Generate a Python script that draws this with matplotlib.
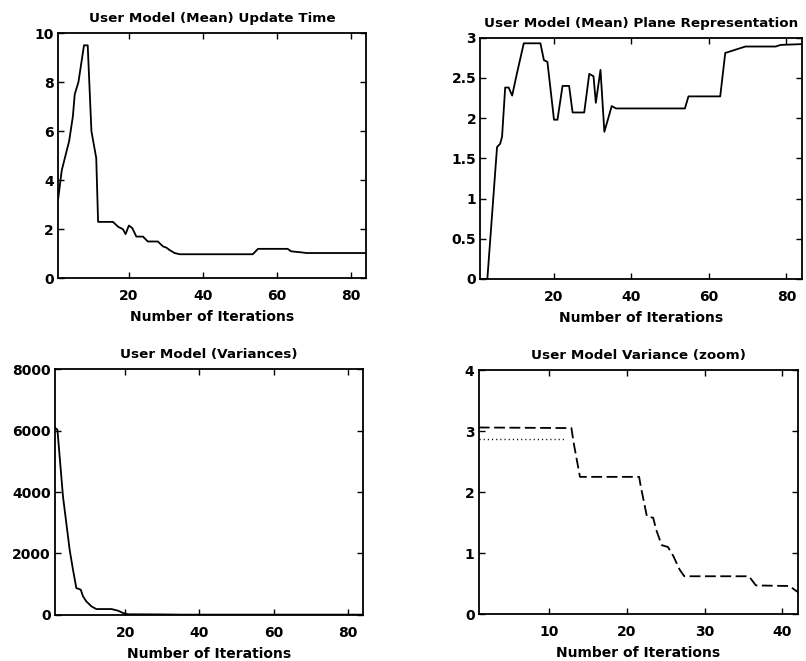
import matplotlib
matplotlib.use("Agg")
import matplotlib.pyplot as plt

plt.rcParams['font.family'] = ['DejaVu Sans']
plt.rcParams['font.weight'] = 'bold'
plt.rcParams['axes.titleweight'] = 'bold'
plt.rcParams['axes.labelweight'] = 'bold'
plt.rcParams['font.size'] = 10

# Datos leidos de la figura
# arriba izquierda: tiempo de actualizacion de la media
update_iter = [1, 2, 3, 4, 5, 5.5, 6.5, 7.5, 8, 9, 10, 11.3, 11.8, 15.8, 17.2, 18.5, 19.2,
               20.1, 21, 22.1, 23.9, 25.2, 27.9, 29.3, 30.2, 31.1, 32.4, 33.8, 53.5, 54.9,
               62.9, 63.8, 67, 67.9, 84]
update_time = [3.2, 4.4, 5.0, 5.6, 6.6, 7.5, 8.0, 9.0, 9.5, 9.5, 6.0, 4.9, 2.3, 2.3, 2.1, 2.0, 1.8,
               2.15, 2.05, 1.7, 1.7, 1.5, 1.5, 1.3, 1.25, 1.15, 1.03, 0.98, 0.98, 1.2,
               1.2, 1.1, 1.05, 1.03, 1.03]

# arriba derecha: representacion del plano
plane_iter = [1, 2.8, 5.3, 6.1, 6.6, 7.4, 8.3, 9.2, 10.5, 12.2, 16.5, 17.4, 18.3, 20, 20.9,
              22.2, 23.9, 24.8, 27.8, 29.1, 30.2, 30.8, 32, 33, 33.9, 34.9, 36, 53.8, 54.7,
              62.9, 64.2, 65.5, 66.8, 69.4, 77.2, 78.5, 84]
plane_val = [0, 0, 1.64, 1.68, 1.77, 2.38, 2.38, 2.28, 2.57, 2.93, 2.93, 2.72, 2.7, 1.98, 1.98,
             2.4, 2.4, 2.07, 2.07, 2.55, 2.52, 2.19, 2.6, 1.83, 1.98, 2.15, 2.12, 2.12, 2.27,
             2.27, 2.81, 2.83, 2.85, 2.89, 2.89, 2.91, 2.92]

# abajo izquierda: varianzas
var_iter = [1, 1.7, 2.3, 3.2, 4.1, 5, 5.9, 6.8, 8, 8.6, 9.5, 10.9, 12.2, 16.3, 18.1, 19.4, 20.8,
            30, 35, 84]
var_val = [6100, 6040, 5170, 3860, 2990, 2120, 1470, 870, 816, 600, 435, 270, 185, 185, 130, 55, 15,
           10, 3, 3]

# abajo derecha: zoom de la varianza
zoom_iter = [1, 12.9, 13.2, 14, 21.6, 21.8, 22.6, 23.4, 23.8, 24.5, 25.3, 26, 26.8, 27.4,
             35.7, 36.6, 40.9, 42]
zoom_dash = [3.06, 3.05, 2.8, 2.25, 2.25, 2.1, 1.6, 1.58, 1.38, 1.13, 1.1, 0.95, 0.73, 0.62,
             0.62, 0.47, 0.46, 0.36]
zoom_dot_iter = [1, 12]
zoom_dot = [2.87, 2.87]

fig = plt.figure(figsize=(8.06, 6.61), dpi=100)

ax1 = fig.add_axes([0.072, 0.579, 0.382, 0.371])
ax2 = fig.add_axes([0.596, 0.578, 0.399, 0.365])
ax3 = fig.add_axes([0.068, 0.070, 0.382, 0.371])
ax4 = fig.add_axes([0.594, 0.071, 0.396, 0.369])

tam_titulo = 9.7

ax1.plot(update_iter, update_time, color='black', lw=1.3)
ax1.set_xlim(1, 84)
ax1.set_ylim(0, 10)
ax1.set_yticks([0, 2, 4, 6, 8, 10])
ax1.set_title('User Model (Mean) Update Time', pad=8, fontsize=tam_titulo)

ax2.plot(plane_iter, plane_val, color='black', lw=1.3)
ax2.set_xlim(1, 84)
ax2.set_ylim(0, 3)
ax2.set_yticks([0, 0.5, 1, 1.5, 2, 2.5, 3])
ax2.set_yticklabels(['0', '0.5', '1', '1.5', '2', '2.5', '3'])
ax2.set_title('User Model (Mean) Plane Representation', pad=8, fontsize=tam_titulo)

ax3.plot(var_iter, var_val, color='black', lw=1.3)
ax3.set_xlim(1, 84)
ax3.set_ylim(0, 8000)
ax3.set_yticks([0, 2000, 4000, 6000, 8000])
ax3.set_title('User Model (Variances)', pad=8, fontsize=tam_titulo)

ax4.plot(zoom_iter, zoom_dash, color='black', lw=1.3, dashes=(6, 2.5))
ax4.plot(zoom_dot_iter, zoom_dot, color='black', lw=1.0, dashes=(0.8, 2.2))
ax4.set_xlim(1, 42)
ax4.set_ylim(0, 4)
ax4.set_xticks([10, 20, 30, 40])
ax4.set_yticks([0, 1, 2, 3, 4])
ax4.set_title('User Model Variance (zoom)', pad=8, fontsize=tam_titulo)

for ax in [ax1, ax2, ax3]:
    ax.set_xticks([20, 40, 60, 80])

for ax in [ax1, ax2, ax3, ax4]:
    ax.set_xlabel('Number of Iterations', labelpad=5)
    ax.tick_params(direction='in', top=True, right=True, length=4, width=1)
    ax.tick_params(axis='x', pad=8)
    ax.tick_params(axis='y', pad=3)
    for s in ax.spines.values():
        s.set_linewidth(1.3)

fig.savefig('out.png', dpi=100)
